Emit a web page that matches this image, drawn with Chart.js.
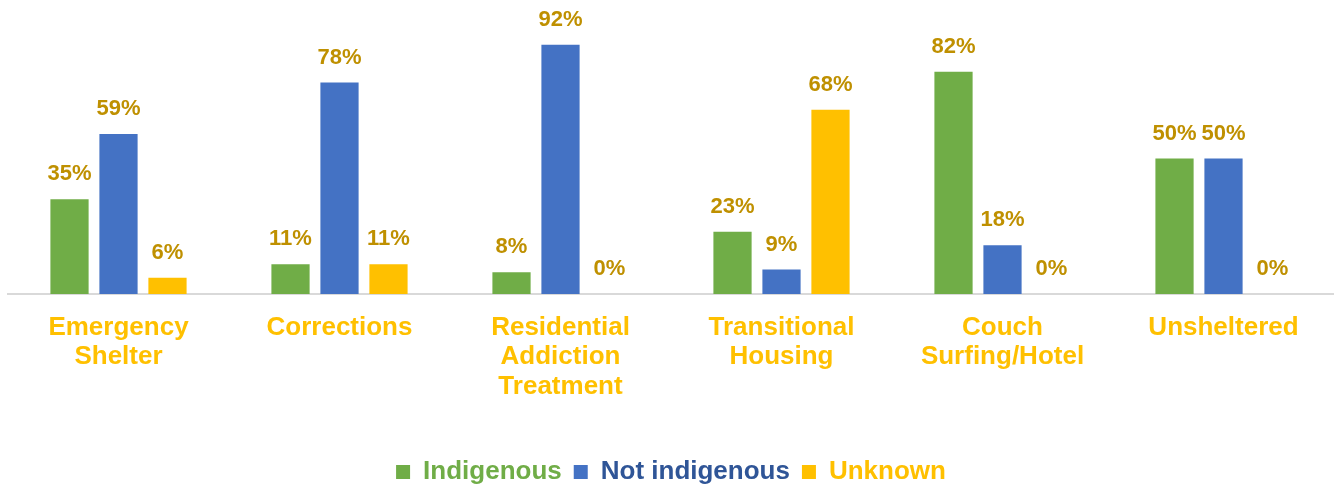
<!DOCTYPE html>
<html>
<head>
<meta charset="utf-8">
<script src="https://cdn.jsdelivr.net/npm/chart.js@4"></script>
<style>
  html, body { margin: 0; padding: 0; background: #fff; }
  #wrap { width: 1334px; height: 489px; }
</style>
</head>
<body>
<div id="wrap"><canvas id="myBarChart"></canvas></div>
<script>
// values (percent)
const categories = [
  ['Emergency', 'Shelter'],
  ['Corrections'],
  ['Residential', 'Addiction', 'Treatment'],
  ['Transitional', 'Housing'],
  ['Couch', 'Surfing/Hotel'],
  ['Unsheltered']
]
const indigenous = [35, 11, 8, 23, 82, 50]
const notIndigenous = [59, 78, 92, 9, 18, 50]
const unknown = [6, 11, 0, 68, 0, 0]

const FONT = "'Liberation Sans', Arial, sans-serif"

// draw the % above every bar
const valueLabels = {
  id: 'valueLabels',
  afterDatasetsDraw(chart) {
    const c = chart.ctx
    c.save()
    c.font = 'bold 22px ' + FONT
    c.fillStyle = '#BF9000'
    c.textAlign = 'center'
    c.textBaseline = 'alphabetic'
    chart.data.datasets.forEach((ds, i) => {
      chart.getDatasetMeta(i).data.forEach((bar, j) => {
        c.fillText(ds.data[j] + '%', bar.x, bar.y - 19)
      })
    })
    c.restore()
  }
}

const legendColors = ['#70AD47', '#2F5597', '#FFC000']

new Chart(document.getElementById('myBarChart'), {
  type: 'bar',
  data: {
    labels: categories,
    datasets: [
      { label: 'Indigenous', data: indigenous, backgroundColor: '#70AD47' },
      { label: 'Not indigenous', data: notIndigenous, backgroundColor: '#4472C4' },
      { label: 'Unknown', data: unknown, backgroundColor: '#FFC000' }
    ]
  },
  options: {
    responsive: true,
    maintainAspectRatio: false,
    animation: false,
    categoryPercentage: 0.665,
    barPercentage: 0.78,
    layout: { padding: { left: 8, right: 0, top: 23, bottom: -6 } },
    scales: {
      y: { display: false, min: 0, max: 100 },
      x: {
        grid: { display: false },
        border: { color: '#D9D9D9', width: 2 },
        ticks: {
          color: '#FFC000',
          font: { family: FONT, size: 26, weight: 'bold', lineHeight: 1.13 },
          maxRotation: 0,
          autoSkip: false,
          padding: 11
        },
        afterFit(scale) {
          scale.height = 153
        }
      }
    },
    plugins: {
      tooltip: { enabled: false },
      legend: {
        position: 'bottom',
        labels: {
          boxWidth: 14,
          boxHeight: 14,
          padding: 12,
          font: { family: FONT, size: 26, weight: 'bold', lineHeight: 0.7 },
          generateLabels(chart) {
            return chart.data.datasets.map((ds, i) => ({
              text: ds.label,
              fillStyle: ds.backgroundColor,
              strokeStyle: ds.backgroundColor,
              lineWidth: 0,
              fontColor: legendColors[i],
              datasetIndex: i
            }))
          }
        }
      }
    }
  },
  plugins: [valueLabels]
})
</script>
</body>
</html>
